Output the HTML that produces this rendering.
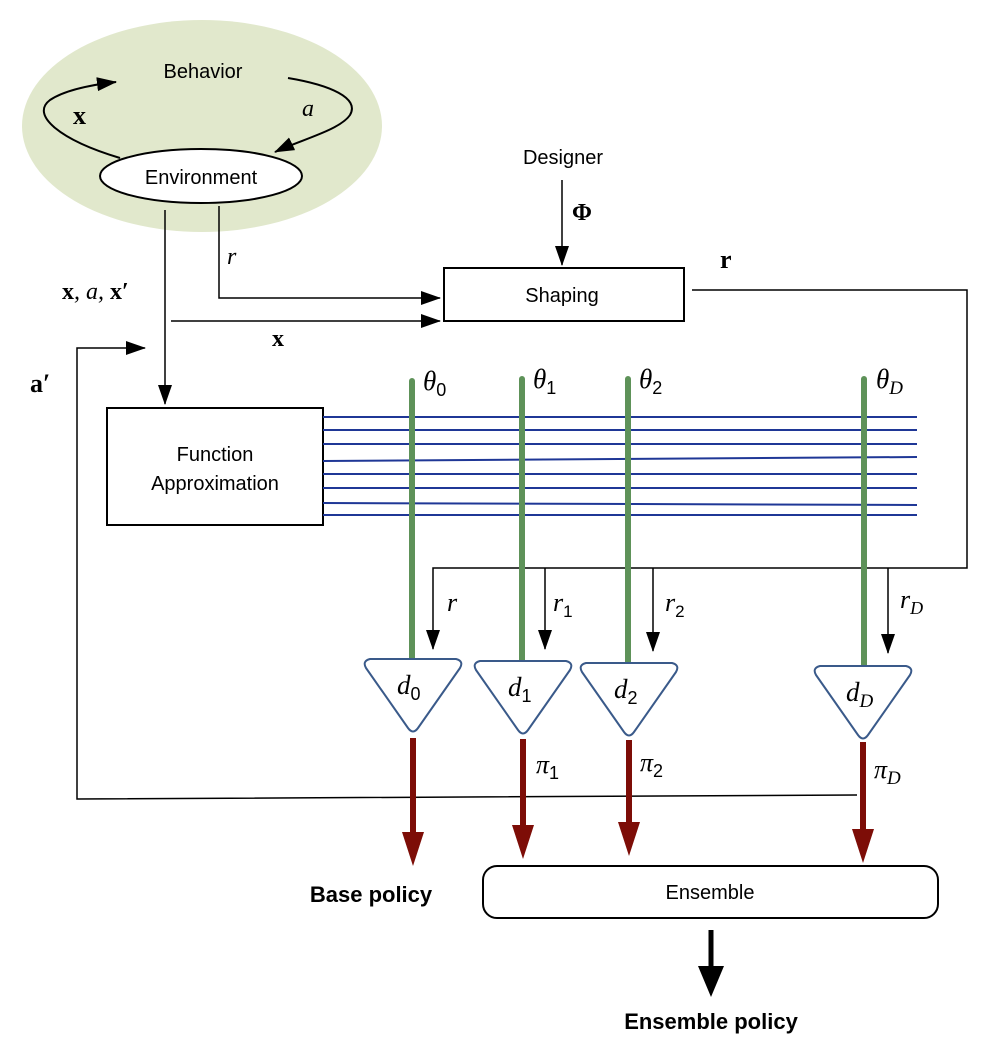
<!DOCTYPE html>
<html><head><meta charset="utf-8"><style>
html,body{margin:0;padding:0;background:#fff;}
svg{display:block;}
.s{font-family:"Liberation Sans",sans-serif;}
.m{font-family:"Liberation Serif",serif;font-style:italic;}
.b{font-family:"Liberation Serif",serif;font-weight:bold;}
</style></head><body>
<svg width="989" height="1054" viewBox="0 0 989 1054" xmlns="http://www.w3.org/2000/svg">
<defs>
<marker id="ah2" markerWidth="20" markerHeight="14" refX="19" refY="7" orient="auto" markerUnits="userSpaceOnUse"><path d="M0,0 L20,7 L0,14 z" fill="#000"/></marker>
</defs>
<ellipse cx="202" cy="126" rx="180" ry="106" fill="#e1e8cc"/>
<text x="203" y="78" class="s" font-size="20" text-anchor="middle">Behavior</text>
<text x="302" y="116" class="m" font-size="24">a</text>
<text x="73" y="124" class="b" font-size="26">x</text>
<path d="M120,158 C60,140 30,115 50,100 C65,90 90,85 116,82" fill="none" stroke="#000" stroke-width="2" marker-end="url(#ah2)"/>
<path d="M288,78 C330,85 360,98 350,115 C340,130 300,140 275,152" fill="none" stroke="#000" stroke-width="2" marker-end="url(#ah2)"/>
<ellipse cx="201" cy="176" rx="101" ry="27" fill="#fff" stroke="#000" stroke-width="2"/>
<text x="201" y="184" class="s" font-size="20" text-anchor="middle">Environment</text>
<line x1="165" y1="210" x2="165" y2="404" stroke="#000" stroke-width="1.5" marker-end="url(#ah2)"/>
<path d="M219,206 L219,298 L440,298" fill="none" stroke="#000" stroke-width="1.5" marker-end="url(#ah2)"/>
<line x1="171" y1="321" x2="440" y2="321" stroke="#000" stroke-width="1.5" marker-end="url(#ah2)"/>
<text x="227" y="264" class="m" font-size="24">r</text>
<text x="62" y="299" class="b" font-size="24">x<tspan class="m" font-weight="normal">, a, </tspan>x′</text>
<text x="272" y="346" class="b" font-size="24">x</text>
<text x="30" y="392" class="b" font-size="26">a′</text>
<text x="563" y="164" class="s" font-size="20" text-anchor="middle">Designer</text>
<line x1="562" y1="180" x2="562" y2="265" stroke="#000" stroke-width="1.5" marker-end="url(#ah2)"/>
<text x="572" y="220" class="b" font-size="24">Φ</text>
<rect x="444" y="268" width="240" height="53" fill="#fff" stroke="#000" stroke-width="2"/>
<text x="562" y="302" class="s" font-size="20" text-anchor="middle">Shaping</text>
<text x="720" y="268" class="b" font-size="26">r</text>
<path d="M692,290 L967,290 L967,568 L433,568 L433,649" fill="none" stroke="#000" stroke-width="1.5" marker-end="url(#ah2)"/>
<line x1="545" y1="568" x2="545" y2="649" stroke="#000" stroke-width="1.5" marker-end="url(#ah2)"/>
<line x1="653" y1="568" x2="653" y2="651" stroke="#000" stroke-width="1.5" marker-end="url(#ah2)"/>
<line x1="888" y1="568" x2="888" y2="653" stroke="#000" stroke-width="1.5" marker-end="url(#ah2)"/>
<text x="447" y="611" class="m" font-size="26">r</text>
<text x="553" y="611" class="m" font-size="26">r<tspan class="s" font-style="normal" font-size="17" dy="6">1</tspan></text>
<text x="665" y="611" class="m" font-size="26">r<tspan class="s" font-style="normal" font-size="17" dy="6">2</tspan></text>
<text x="900" y="608" class="m" font-size="26">r<tspan font-size="18" dy="6">D</tspan></text>
<path d="M857,795 L77,799 L77,348 L145,348" fill="none" stroke="#000" stroke-width="1.5" marker-end="url(#ah2)"/>
<rect x="107" y="408" width="216" height="117" fill="#fff" stroke="#000" stroke-width="2"/>
<text x="215" y="461" class="s" font-size="20" text-anchor="middle">Function</text>
<text x="215" y="490" class="s" font-size="20" text-anchor="middle">Approximation</text>
<g stroke="#1f3796" stroke-width="2">
<line x1="323" y1="417" x2="917" y2="417"/>
<line x1="323" y1="430" x2="917" y2="430"/>
<line x1="323" y1="444" x2="917" y2="444"/>
<line x1="323" y1="461" x2="917" y2="457"/>
<line x1="323" y1="474" x2="917" y2="474"/>
<line x1="323" y1="488" x2="917" y2="488"/>
<line x1="323" y1="503" x2="917" y2="505"/>
<line x1="323" y1="515" x2="917" y2="515"/>
</g>
<g stroke="#5e9259" stroke-width="6" stroke-linecap="round">
<line x1="412" y1="381" x2="412" y2="660"/>
<line x1="522" y1="379" x2="522" y2="661"/>
<line x1="628" y1="379" x2="628" y2="664"/>
<line x1="864" y1="379" x2="864" y2="666"/>
</g>
<text x="423" y="390" class="m" font-size="27">θ<tspan class="s" font-style="normal" font-size="18" dy="6">0</tspan></text>
<text x="533" y="388" class="m" font-size="27">θ<tspan class="s" font-style="normal" font-size="18" dy="6">1</tspan></text>
<text x="639" y="388" class="m" font-size="27">θ<tspan class="s" font-style="normal" font-size="18" dy="6">2</tspan></text>
<text x="876" y="388" class="m" font-size="27">θ<tspan font-size="19" dy="6">D</tspan></text>
<g fill="#fff" stroke="#3a5a8a" stroke-width="2" stroke-linejoin="round">
<path d="M370,659 L456,659 Q464,661 460,668 L418,728 Q413,735 408,728 L366,668 Q362,661 370,659 z"/>
<path d="M480,661 L566,661 Q574,663 570,670 L528,730 Q523,737 518,730 L476,670 Q472,663 480,661 z"/>
<path d="M586,663 L672,663 Q680,665 676,672 L634,732 Q629,739 624,732 L582,672 Q578,665 586,663 z"/>
<path d="M820,666 L906,666 Q914,668 910,675 L868,735 Q863,742 858,735 L816,675 Q812,668 820,666 z"/>
</g>
<text x="397" y="694" class="m" font-size="27">d<tspan class="s" font-style="normal" font-size="18" dy="6">0</tspan></text>
<text x="508" y="696" class="m" font-size="27">d<tspan class="s" font-style="normal" font-size="18" dy="6">1</tspan></text>
<text x="614" y="698" class="m" font-size="27">d<tspan class="s" font-style="normal" font-size="18" dy="6">2</tspan></text>
<text x="846" y="701" class="m" font-size="27">d<tspan font-size="19" dy="6">D</tspan></text>
<g fill="#7d0d07" stroke="#7d0d07">
<line x1="413" y1="738" x2="413" y2="835" stroke-width="6"/><path d="M402,832 L424,832 L413,866 z" stroke="none"/>
<line x1="523" y1="739" x2="523" y2="828" stroke-width="6"/><path d="M512,825 L534,825 L523,859 z" stroke="none"/>
<line x1="629" y1="740" x2="629" y2="825" stroke-width="6"/><path d="M618,822 L640,822 L629,856 z" stroke="none"/>
<line x1="863" y1="742" x2="863" y2="832" stroke-width="6"/><path d="M852,829 L874,829 L863,863 z" stroke="none"/>
</g>
<text x="536" y="773" class="m" font-size="26">π<tspan class="s" font-style="normal" font-size="18" dy="6">1</tspan></text>
<text x="640" y="771" class="m" font-size="26">π<tspan class="s" font-style="normal" font-size="18" dy="6">2</tspan></text>
<text x="874" y="778" class="m" font-size="26">π<tspan font-size="19" dy="6">D</tspan></text>
<rect x="483" y="866" width="455" height="52" rx="14" fill="#fff" stroke="#000" stroke-width="2"/>
<text x="710" y="899" class="s" font-size="20" text-anchor="middle">Ensemble</text>
<text x="371" y="902" class="s" font-size="22" font-weight="bold" text-anchor="middle">Base policy</text>
<line x1="711" y1="930" x2="711" y2="970" stroke="#000" stroke-width="5"/>
<path d="M698,966 L724,966 L711,997 z" fill="#000"/>
<text x="711" y="1029" class="s" font-size="22" font-weight="bold" text-anchor="middle">Ensemble policy</text>
</svg>
</body></html>
